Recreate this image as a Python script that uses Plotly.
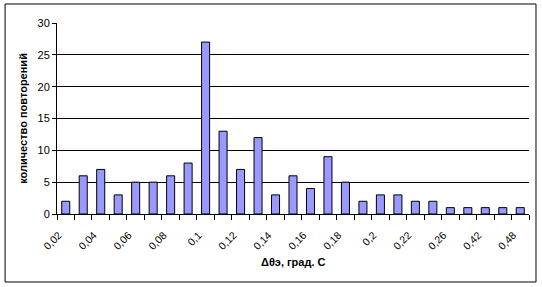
import plotly.graph_objects as go

categories = ["0,02", "0,03", "0,04", "0,05", "0,06", "0,07", "0,08", "0,09", "0,1",
              "0,11", "0,12", "0,13", "0,14", "0,15", "0,16", "0,17", "0,18", "0,19",
              "0,2", "0,21", "0,22", "0,24", "0,26", "0,34", "0,42", "0,46", "0,48"]
counts = [2, 6, 7, 3, 5, 5, 6, 8, 27, 13, 7, 12, 3, 6, 4, 9, 5, 2, 3, 3, 2, 2, 1, 1, 1, 1, 1]
tick_labels = [c if i % 2 == 0 else "" for i, c in enumerate(categories)]
y_ticks = [0, 5, 10, 15, 20, 25, 30]

fig = go.Figure()
fig.add_trace(go.Bar(
    x=categories, y=counts,
    marker=dict(color="#9999FF", line=dict(color="black", width=1)),
))

fig.update_layout(
    width=542, height=287,
    margin=dict(l=57, r=13, t=23, b=73),
    paper_bgcolor="white", plot_bgcolor="white",
    bargap=0.54,
    showlegend=False,
    font=dict(family="Arial, Liberation Sans, sans-serif", size=11, color="black"),
    xaxis=dict(
        type="category",
        tickmode="array", tickvals=categories, ticktext=tick_labels,
        tickson="boundaries", ticks="outside", ticklen=5, tickcolor="black",
        tickangle=-45, tickfont=dict(size=10.5),
        ticklabelstandoff=10, ticklabelshift=-7,
        showline=True, linecolor="black", linewidth=1,
        showgrid=False, zeroline=False,
    ),
    yaxis=dict(
        range=[0, 30], tickvals=y_ticks,
        ticks="outside", ticklen=4, tickcolor="black",
        showline=True, linecolor="black", linewidth=1,
        showgrid=True, gridcolor="black", gridwidth=1,
        zeroline=False,
        title=dict(text="<b>количество повторений</b>", font=dict(size=11), standoff=7),
    ),
    annotations=[dict(
        text="<b>Δθэ, град. С</b>", xref="paper", yref="paper",
        x=0.5, y=-0.25, yanchor="middle", xanchor="center",
        showarrow=False, font=dict(size=11),
    )],
    shapes=[dict(
        type="rect", xref="paper", yref="paper",
        x0=-0.110, x1=1.0148, y0=-0.356, y1=1.0995,
        line=dict(color="black", width=1), fillcolor="rgba(0,0,0,0)", layer="below",
    )],
)

fig.write_html("out.html")
